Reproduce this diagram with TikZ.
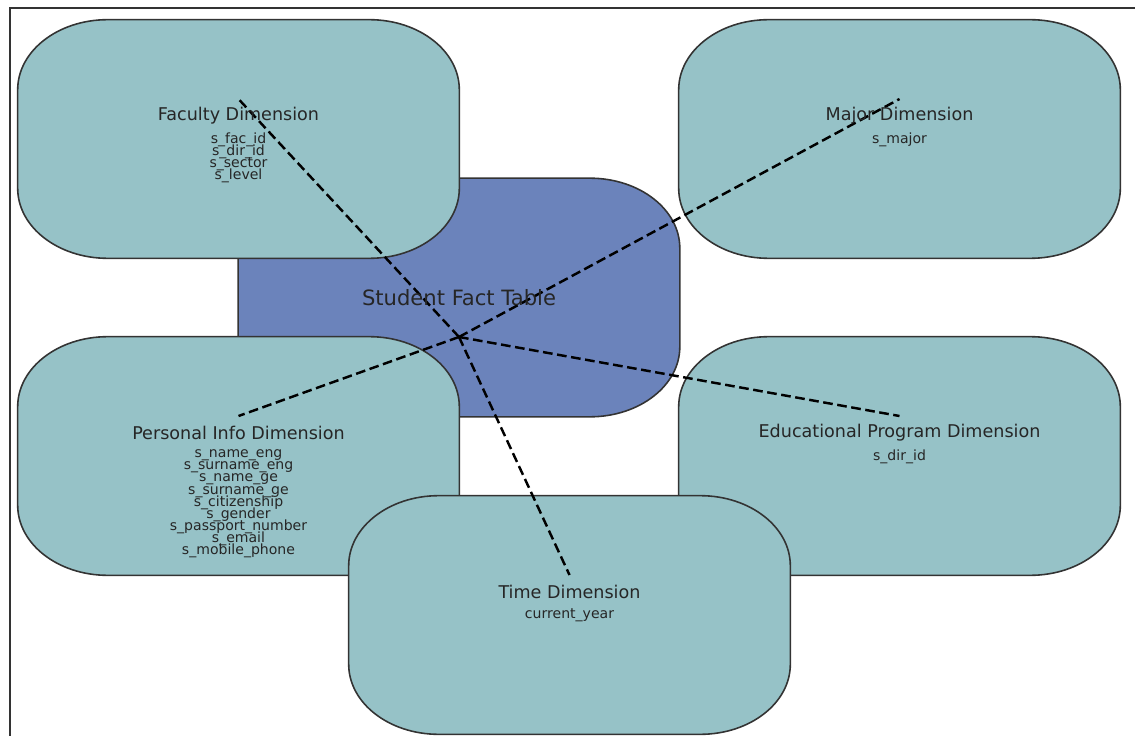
\documentclass[tikz,border=0pt]{standalone}
\usepackage{fontspec}
\setmainfont{DejaVu Sans}
\usetikzlibrary{positioning}
\definecolor{dimfill}{HTML}{96C2C7}
\definecolor{factfill}{HTML}{6B83BB}
% box with elliptic corners round a node
\newcommand\softbox[2]{%
  \filldraw[fill=#2,draw=black!80,line width=0.9pt]
    ([xshift=1.8cm]#1.south west) -- ([xshift=-1.8cm]#1.south east)
    arc[start angle=-90,end angle=0,x radius=1.8cm,y radius=1.4cm]
    -- ([yshift=-1.4cm]#1.north east)
    arc[start angle=0,end angle=90,x radius=1.8cm,y radius=1.4cm]
    -- ([xshift=1.8cm]#1.north west)
    arc[start angle=90,end angle=180,x radius=1.8cm,y radius=1.4cm]
    -- ([yshift=1.4cm]#1.south west)
    arc[start angle=180,end angle=270,x radius=1.8cm,y radius=1.4cm]
    -- cycle;}

\begin{document}
\lineskiplimit=-100pt
\begin{tikzpicture}[x=0.02cm,y=-0.02cm,
    boxshape/.style={rectangle,inner sep=0pt,minimum width=8.82cm,minimum height=4.76cm},
    link/.style={black,line width=1.4pt,dash pattern=on 5.5pt off 2.6pt},
    dimtitle/.style={inner sep=0pt,text=black!85,font=\fontsize{10}{12}\selectfont},
    attrs/.style={inner sep=0pt,anchor=north,align=center,text=black!85,
      font=\fontsize{8}{6.9}\selectfont}]
    \useasboundingbox (0,0) rectangle (1135,736);
    \draw[black!80,line width=0.8pt] (10,736) -- (10,8) -- (1135,8);
    \node[boxshape] (fact) at (459,297.5) {};
    \node[boxshape] (fac) at (238.5,139) {};
    \node[boxshape] (major) at (899.5,139) {};
    \node[boxshape] (pers) at (238.5,456) {};
    \node[boxshape] (edu) at (899.5,456) {};
    \node[boxshape] (time) at (569.5,615) {};
    \softbox{fact}{factfill}
    \foreach \d in {fac,major,pers,edu,time} {\softbox{\d}{dimfill}}
    % star links
    \coordinate (hub) at ([yshift=-0.79cm]fact.center);
    \foreach \d in {fac,major,pers,edu,time} {
      \coordinate (\d end) at ([yshift=0.8cm]\d.center);
      \draw[link] (hub) -- (\d end);
    }
    \node[inner sep=0pt,text=black!85,font=\fontsize{12}{14}\selectfont] (facttitle) at (fact.center) {Student Fact Table};
    \node[dimtitle] (factitle) at ([yshift=0.46cm]fac.center) {Faculty Dimension};
    \node[attrs] (facattrs) at ([yshift=0.13cm]fac.center) {s\_fac\_id\\s\_dir\_id\\s\_sector\\s\_level};
    \node[dimtitle] (majortitle) at ([yshift=0.46cm]major.center) {Major Dimension};
    \node[attrs] (majorattrs) at ([yshift=0.13cm]major.center) {s\_major};
    \node[dimtitle] (perstitle) at ([yshift=0.46cm]pers.center) {Personal Info Dimension};
    \node[attrs] (persattrs) at ([yshift=0.13cm]pers.center) {s\_name\_eng\\s\_surname\_eng\\s\_name\_ge\\s\_surname\_ge\\s\_citizenship\\s\_gender\\s\_passport\_number\\s\_email\\s\_mobile\_phone};
    \node[dimtitle] (edutitle) at ([yshift=0.46cm]edu.center) {Educational Program Dimension};
    \node[attrs] (eduattrs) at ([yshift=0.13cm]edu.center) {s\_dir\_id};
    \node[dimtitle] (timetitle) at ([yshift=0.46cm]time.center) {Time Dimension};
    \node[attrs] (timeattrs) at ([yshift=0.13cm]time.center) {current\_year};
\end{tikzpicture}
\end{document}
